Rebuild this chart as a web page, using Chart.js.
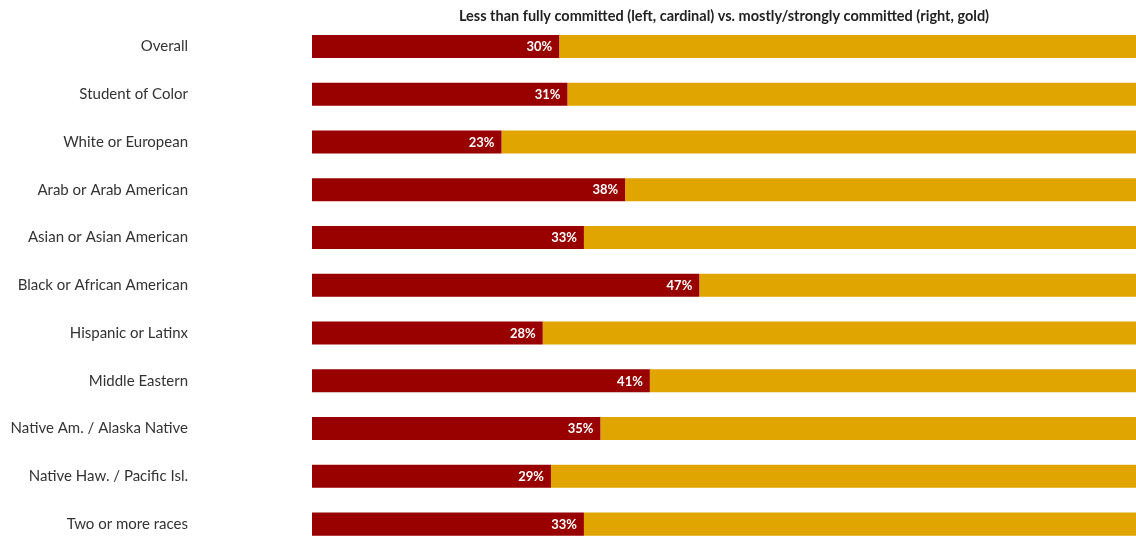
<!DOCTYPE html>
<html>
<head>
<meta charset="utf-8">
<script src="https://cdn.jsdelivr.net/npm/chart.js@4/dist/chart.umd.min.js"></script>
<style>
  html, body { margin: 0; padding: 0; background: #ffffff; overflow: hidden; }
  #wrap { position: relative; width: 1136px; height: 548px; }
</style>
</head>
<body>
<div id="wrap"><canvas id="c"></canvas></div>
<script>
// Share of students by group: less than fully committed vs. mostly/strongly committed
const categories = [
  'Overall',
  'Student of Color',
  'White or European',
  'Arab or Arab American',
  'Asian or Asian American',
  'Black or African American',
  'Hispanic or Latinx',
  'Middle Eastern',
  'Native Am. / Alaska Native',
  'Native Haw. / Pacific Isl.',
  'Two or more races'
];
const lessCommitted   = [30, 31, 23, 38, 33, 47, 28, 41, 35, 29, 33];
const mostlyCommitted = [70, 69, 77, 62, 67, 53, 72, 59, 65, 71, 67];

const titleText = 'Less than fully committed (left, cardinal) vs. mostly/strongly committed (right, gold)';
const CARDINAL = '#990000';
const GOLD = '#E0A500';

// White percentage labels at the inner right edge of each cardinal bar
const barValueLabels = {
  id: 'barValueLabels',
  afterDatasetsDraw(chart) {
    const meta = chart.getDatasetMeta(0);
    const ctx = chart.ctx;
    ctx.save();
    ctx.font = 'bold 13px Lato, "Open Sans", sans-serif';
    ctx.fillStyle = '#ffffff';
    ctx.textAlign = 'right';
    ctx.textBaseline = 'middle';
    meta.data.forEach((bar, i) => {
      ctx.fillText(lessCommitted[i] + '%', bar.x - 7, bar.y + 0.5);
    });
    ctx.restore();
  }
};

new Chart(document.getElementById('c'), {
  type: 'bar',
  data: {
    labels: categories,
    datasets: [
      { label: 'Less than fully committed', data: lessCommitted, backgroundColor: CARDINAL, borderWidth: 0 },
      { label: 'Mostly/strongly committed', data: mostlyCommitted, backgroundColor: GOLD, borderWidth: 0 }
    ]
  },
  options: {
    indexAxis: 'y',
    responsive: true,
    maintainAspectRatio: false,
    devicePixelRatio: 1,
    animation: false,
    layout: { padding: { left: 0, right: 0, top: 0, bottom: 0 } },
    datasets: { bar: { categoryPercentage: 1, barPercentage: 0.482 } },
    scales: {
      x: {
        stacked: true,
        min: 0,
        max: 100,
        display: false
      },
      y: {
        stacked: true,
        grid: { display: false, drawTicks: false },
        border: { display: false },
        ticks: {
          padding: 124,
          color: '#333333',
          font: { family: 'Lato, "Open Sans", sans-serif', size: 15 }
        },
        afterFit(scale) {
          scale.width = 312;
          scale.paddingTop = 0;
          scale.paddingBottom = 0;
        }
      }
    },
    plugins: {
      legend: { display: false },
      tooltip: { enabled: false },
      title: {
        display: true,
        text: titleText,
        fullSize: false,
        color: '#222222',
        font: { family: 'Lato, "Open Sans", sans-serif', size: 14.5, weight: 'bold', lineHeight: 0.9 },
        padding: { top: 9.6, bottom: 0 }
      }
    }
  },
  plugins: [barValueLabels]
});
</script>
</body>
</html>
